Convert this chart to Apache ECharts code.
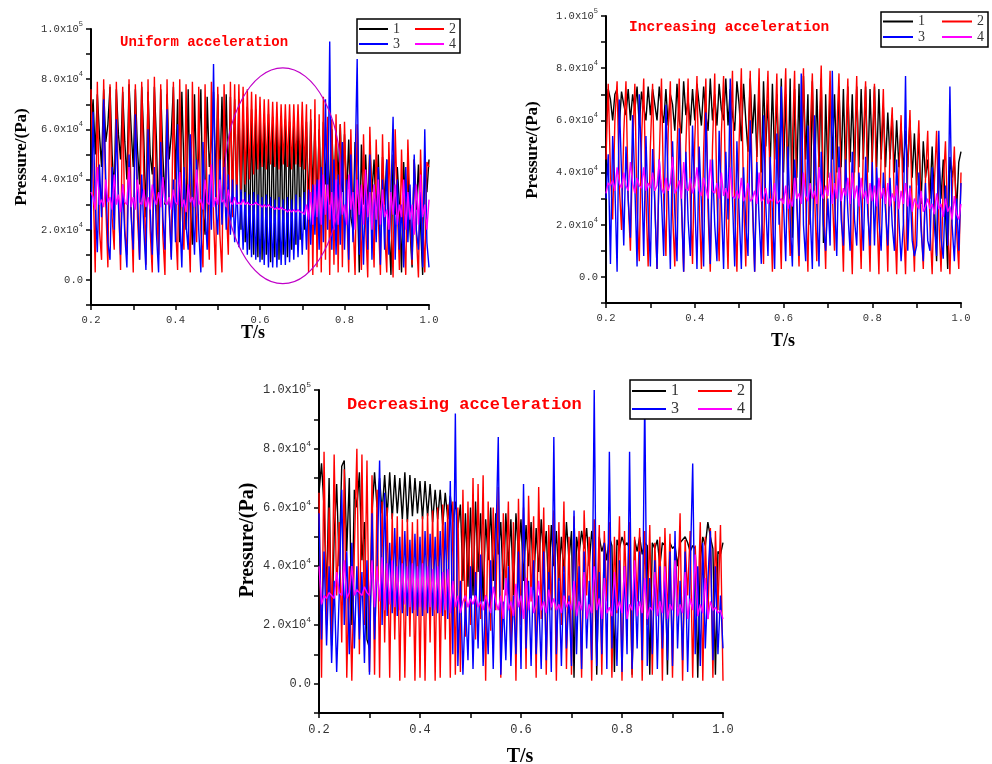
<!DOCTYPE html>
<html>
<head>
<meta charset="utf-8">
<script src="https://cdn.jsdelivr.net/npm/echarts@6/dist/echarts.min.js"></script>
<style>
  html, body { margin: 0; padding: 0; background: #fff; }
  #chart { width: 992px; height: 764px; }
</style>
</head>
<body>
<div id="chart"></div>
<script>
// Pressure histories (unit: 1e3 Pa), sampled evenly from T = 0.2 s to 1.0 s.
const seriesNames = ['1', '2', '3', '4'];
const panelTitles = ['Uniform acceleration', 'Increasing acceleration', 'Decreasing acceleration'];
const xTicks = [0.2, 0.4, 0.6, 0.8, 1.0];
const yTicks = [0, 20000, 40000, 60000, 80000, 100000];

// ---- Uniform acceleration ----
const uniform1 = [
  60,72,50,74,58,45,76,55,62,77,50,35,76,58,48,75,55,40,78,60,
  45,76,52,38,77,56,25,75,50,42,77,55,20,76,50,30,74,48,58,77,
  40,72,15,75,45,20,76,30,14,74,40,50,76,28,18,73,45,55,75,38,
  74,40,73,36,74,38,73,32,72,30,72,20,70,15,69,12,68,10,68,9,
  67,8,66,10,66,7,65,9,65,8,64,10,64,9,63,12,63,14,62,16,
  62,20,63,28,64,35,62,30,60,33,63,38,61,30,60,36,58,40,62,35,
  58,32,56,25,20,55,38,3,54,30,50,28,52,35,48,25,50,22,49,30,
  48,20,2,50,26,45,30,3,47,25,44,20,5,48,28,46,22,2,47,35,
  48
];
const uniform2 = [
  76,40,3,79,20,8,80,30,5,78,25,12,79,35,4,77,20,10,80,30,
  3,78,25,8,79,40,6,80,20,3,81,30,10,78,18,2,80,28,9,79,
  22,4,80,30,12,78,25,3,79,35,15,77,20,5,78,30,8,79,25,2,
  77,18,3,78,30,10,79,25,78,30,78,35,77,38,76,40,75,42,74,44,
  73,45,72,44,72,46,71,45,71,44,70,46,70,45,70,44,70,46,70,45,
  71,44,70,3,68,2,72,5,66,3,73,8,65,2,64,6,66,3,62,5,
  63,30,3,60,25,2,62,28,4,58,22,1,61,30,5,56,25,2,58,20,
  3,55,25,1,60,30,4,52,20,2,56,28,6,48,18,1,52,24,3,47,
  45
];
const uniform3 = [
  20,67,30,11,46,25,72,40,15,8,45,20,64,30,10,38,18,5,50,25,
  12,66,35,8,42,20,4,60,28,10,45,18,3,55,25,12,68,30,8,40,
  15,62,25,5,45,22,12,58,30,10,48,20,3,55,28,12,42,20,86,30,
  18,48,22,45,20,42,18,40,15,38,13,36,12,35,10,34,9,35,8,34,
  7,33,6,34,5,33,5,32,5,33,6,32,6,33,7,32,8,34,9,33,
  10,35,12,36,14,38,18,40,12,45,15,72,20,95,12,48,10,42,14,55,
  12,40,8,50,15,44,88,10,36,6,42,12,50,8,38,15,45,6,40,12,
  48,10,35,65,8,40,12,30,5,45,15,38,8,50,20,12,35,5,60,15,
  5
];
const uniform4 = [
  35,33,28,45,30,32,29,40,31,33,28,42,30,34,27,38,31,30,45,29,
  33,28,40,31,30,36,29,33,28,38,32,30,35,29,41,31,30,33,28,36,
  31,30,43,29,32,27,38,31,33,29,44,30,32,28,40,31,30,46,29,33,
  30,40,31,32,29,36,31,30,33,30,31,30,32,30,31,30,30,30,31,30,
  30,29,30,29,30,29,29,28,29,28,29,28,28,27,28,27,28,27,28,27,
  27,26,30,24,35,22,38,25,40,22,42,26,38,24,35,20,40,22,38,26,
  30,22,42,28,35,20,40,26,38,22,44,25,35,20,38,24,40,22,36,25,
  28,20,35,26,38,22,30,25,40,20,35,24,30,18,38,22,42,25,30,20,
  32
];

// ---- Increasing acceleration ----
const increasing1 = [
  62,72,68,60,70,72,58,71,66,62,72,60,70,64,73,58,71,65,60,73,
  62,72,66,60,73,64,59,72,58,70,66,56,74,60,55,75,62,68,58,72,
  60,74,66,58,73,62,56,76,60,70,58,74,64,60,76,58,72,62,56,75,
  66,52,74,60,48,76,55,70,46,72,40,75,50,68,42,74,45,70,38,76,
  40,70,35,76,15,72,38,74,30,77,45,70,20,75,35,72,42,76,13,70,
  38,73,45,70,40,73,42,72,38,73,44,70,40,73,42,72,45,73,40,72,
  44,73,42,72,45,65,42,63,45,62,40,60,42,58,40,56,42,60,38,55,
  35,55,28,52,38,45,30,50,28,6,46,30,45,25,3,46,38,45,25,44,
  48
];
const increasing2 = [
  45,74,40,22,60,75,35,18,55,75,30,10,50,74,25,6,52,76,30,4,
  50,74,28,3,45,76,30,8,55,75,25,4,48,76,28,2,50,76,30,5,
  52,77,28,3,48,76,25,2,50,78,30,6,55,77,28,3,50,79,26,2,
  52,80,30,4,50,79,28,2,48,80,32,5,55,79,30,2,50,78,28,3,
  55,80,30,8,52,79,28,4,50,80,30,2,55,78,32,6,52,81,30,3,
  50,79,32,10,55,78,30,2,50,76,28,1,48,77,30,3,52,75,30,2,
  50,74,28,1,48,72,30,2,50,65,25,1,40,62,24,1,42,64,25,2,
  40,60,22,3,38,56,20,1,36,56,22,2,35,52,20,1,32,50,18,3,
  40
];
const increasing3 = [
  30,47,5,54,35,2,68,40,12,50,30,15,62,35,4,70,42,8,54,25,
  4,49,28,3,45,30,8,66,35,3,52,25,6,57,30,2,48,22,8,58,
  30,3,50,28,4,63,32,5,45,20,6,56,28,3,48,22,76,30,4,52,
  25,3,42,20,8,60,30,2,44,22,5,62,28,8,46,25,3,55,20,73,
  28,6,50,22,4,45,30,8,78,20,6,58,25,3,62,28,4,48,20,10,
  30,12,79,30,8,50,22,12,45,25,10,48,22,12,40,28,10,46,24,12,
  44,12,42,22,10,40,25,12,38,20,10,45,22,6,20,77,10,35,14,8,
  12,40,18,6,36,14,10,42,20,8,56,15,7,35,12,73,20,6,30,10,
  36
];
const increasing4 = [
  32,36,35,37,33,42,36,34,40,35,33,44,36,32,38,35,34,42,33,36,
  34,40,33,35,45,34,32,38,33,36,46,32,34,37,30,44,34,33,38,32,
  35,42,33,31,38,34,30,45,33,32,36,30,40,31,34,30,42,31,30,33,
  30,38,29,31,36,29,30,33,28,40,29,30,34,28,30,29,36,28,29,30,
  28,35,26,30,27,38,30,32,28,40,31,29,36,30,33,28,42,32,30,35,
  31,40,28,36,30,42,29,34,31,38,28,40,30,35,27,38,30,33,28,36,
  29,35,27,38,30,34,28,36,27,32,29,35,26,33,28,36,27,34,25,30,
  28,26,33,25,27,30,26,28,24,32,26,28,23,30,25,27,22,31,24,22,
  28
];

// ---- Decreasing acceleration ----
const decreasing1 = [
  65,75,60,30,70,13,50,68,40,74,76,45,70,20,66,60,72,42,55,15,
  12,58,72,60,70,58,71,57,72,56,71,58,70,56,72,55,71,57,70,58,
  69,56,69,57,68,55,66,56,66,54,65,56,64,55,62,53,61,35,58,33,
  60,30,62,38,58,28,56,42,60,35,58,44,55,32,58,40,56,30,58,44,
  56,35,54,40,55,32,53,38,56,42,52,30,54,40,52,35,50,38,55,42,
  52,2,50,44,52,46,53,40,52,45,3,50,45,48,42,50,47,4,49,46,
  50,47,48,46,3,49,45,50,44,48,47,3,48,46,49,40,48,47,3,48,
  46,47,40,48,49,50,48,45,47,46,2,42,50,47,55,50,46,3,45,44,
  48
];
const decreasing2 = [
  65,2,79,20,60,15,78,30,55,14,73,2,40,1,45,80,10,78,20,76,
  4,71,3,66,2,62,14,60,2,58,15,57,1,56,2,56,16,55,1,56,
  2,57,1,58,14,59,1,60,2,61,15,61,2,62,3,60,4,66,16,62,
  20,70,15,68,22,71,1,62,18,60,25,67,2,58,30,62,10,55,1,63,
  20,60,5,64,28,57,2,67,22,60,3,54,25,59,1,55,20,62,5,50,
  3,57,25,52,2,59,30,50,1,56,22,54,3,52,28,55,2,50,24,57,
  1,52,26,55,2,50,28,53,1,52,20,54,3,48,25,50,1,53,22,51,
  2,48,26,58,1,49,30,52,2,47,24,55,1,50,22,53,2,52,25,54,
  1
];
const decreasing3 = [
  58,15,45,13,40,7,35,4,30,66,20,45,10,48,12,40,15,38,7,42,
  3,58,15,40,76,20,65,23,48,24,53,23,50,24,52,23,49,24,51,23,
  50,23,52,24,51,23,50,24,52,23,55,22,69,10,92,6,35,3,28,8,
  40,5,38,12,44,6,30,10,42,5,46,84,3,28,8,40,6,30,10,45,
  5,68,12,35,6,42,10,30,5,45,8,38,4,84,10,36,6,40,12,30,
  6,59,10,40,5,45,12,35,8,100,6,38,10,48,5,79,12,35,6,42,
  4,40,10,79,5,38,12,45,8,98,6,36,10,42,5,40,12,38,8,45,
  6,52,12,35,8,45,4,38,75,10,40,6,48,12,35,52,8,40,10,30,
  12
];
const decreasing4 = [
  40,27,30,29,31,30,29,38,31,30,42,29,31,40,30,32,31,30,33,31,
  30,42,26,40,28,43,25,41,27,42,26,40,25,41,27,40,26,41,25,40,
  26,41,25,40,26,39,25,40,24,38,25,39,24,35,26,30,24,28,30,26,
  29,27,30,26,28,25,30,27,24,33,28,25,30,22,36,25,28,23,34,26,
  30,22,36,25,33,24,27,35,25,28,24,32,26,29,25,27,24,30,26,28,
  25,35,23,28,25,38,22,27,24,40,25,29,22,36,24,26,23,38,25,28,
  24,40,22,27,25,42,23,28,24,36,22,26,25,38,23,28,24,40,22,27,
  25,42,23,27,24,38,22,29,25,44,23,27,24,36,22,28,25,26,24,25,
  22
];

const T_START = 0.2, T_END = 1.0;
const seriesColors = ['#000000', '#ff0000', '#0000ff', '#ff00ff'];

const panelData = [
  [uniform1, uniform2, uniform3, uniform4],
  [increasing1, increasing2, increasing3, increasing4],
  [decreasing1, decreasing2, decreasing3, decreasing4]
];

// Page layout of the three panels
const layout = [
  { grid: { left: 91, top: 29, width: 338, height: 276 }, tick: 10.5, titleLeft: 120, titleTop: 35, titleSize: 14,
    yName: [22, 157], yNameSize: 17, xName: [253, 333], xNameSize: 18, labelGap: 10,
    box: [357, 19, 103, 34], rows: [22, 37], legLeft: 359, icon: 29, legFont: 14, legGap: 15 },
  { grid: { left: 606, top: 16, width: 355, height: 287 }, tick: 10.5, titleLeft: 629, titleTop: 20, titleSize: 14.5,
    yName: [533, 150], yNameSize: 17, xName: [783, 341], xNameSize: 18, labelGap: 10,
    box: [881, 12, 107, 35], rows: [14.5, 30], legLeft: 883, icon: 30, legFont: 14, legGap: 17 },
  { grid: { left: 319, top: 390, width: 404, height: 323 }, tick: 12, titleLeft: 347, titleTop: 396, titleSize: 17,
    yName: [248, 540], yNameSize: 20, xName: [520, 757], xNameSize: 20, labelGap: 11,
    box: [630, 380, 121, 39], rows: [383, 401], legLeft: 632, icon: 34, legFont: 16, legGap: 19 }
];

function toPairs(vals) {
  const step = (T_END - T_START) / (vals.length - 1);
  return vals.map((v, i) => [T_START + i * step, v * 1000]);
}

function yLabel(v) {
  if (yTicks.indexOf(v) < 0) return '';
  if (v === 0) return '0.0';
  const e = Math.floor(Math.log10(v) + 1e-9);
  const m = v / Math.pow(10, e);
  return '{b|' + m.toFixed(1) + 'x10}{s|' + e + '}';
}
function xLabel(v) {
  return xTicks.some(t => Math.abs(t - v) < 1e-6) ? v.toFixed(1) : '';
}

const grids = [], xAxes = [], yAxes = [], series = [], titles = [], legends = [], graphics = [];

layout.forEach((p, k) => {
  grids.push(Object.assign({ containLabel: false }, p.grid));
  xAxes.push({
    type: 'value', gridIndex: k, min: 0.2, max: 1.0, interval: 0.1,
    axisLine: { onZero: false, lineStyle: { color: '#000', width: 2 } },
    axisTick: { show: true, length: 5, lineStyle: { color: '#000', width: 1.5 } },
    splitLine: { show: false },
    axisLabel: { formatter: xLabel, margin: p.labelGap, fontFamily: 'Liberation Mono', fontSize: p.tick, color: '#333' }
  });
  yAxes.push({
    type: 'value', gridIndex: k, min: -10000, max: 100000, interval: 10000,
    axisLine: { onZero: false, lineStyle: { color: '#000', width: 2 } },
    axisTick: { show: true, length: 5, lineStyle: { color: '#000', width: 1.5 } },
    splitLine: { show: false },
    axisLabel: {
      formatter: yLabel, margin: 8, fontFamily: 'Liberation Mono', fontSize: p.tick, color: '#333',
      rich: {
        b: { fontFamily: 'Liberation Mono', fontSize: p.tick, color: '#333', lineHeight: p.tick + 6 },
        s: { fontFamily: 'Liberation Mono', fontSize: Math.round(p.tick * 0.7), color: '#333', verticalAlign: 'top', lineHeight: Math.round(p.tick * 0.7) }
      }
    }
  });
  panelData[k].forEach((vals, j) => {
    series.push({
      name: seriesNames[j], type: 'line', xAxisIndex: k, yAxisIndex: k,
      data: toPairs(vals), showSymbol: false, symbol: 'none',
      lineStyle: { color: seriesColors[j], width: 1.4 }, itemStyle: { color: seriesColors[j] },
      z: 2 + j * 0.01
    });
  });
  titles.push({
    text: panelTitles[k], left: p.titleLeft, top: p.titleTop, padding: 0,
    textStyle: { color: '#ff0000', fontFamily: 'Liberation Mono', fontWeight: 'bold', fontSize: p.titleSize }
  });
  [['1', '2'], ['3', '4']].forEach((pair, r) => {
    legends.push({
      data: pair, left: p.legLeft, top: p.rows[r], orient: 'horizontal', padding: 0,
      icon: 'rect', itemWidth: p.icon, itemHeight: 2, itemGap: p.legGap, selectedMode: false,
      textStyle: { fontFamily: 'Liberation Serif', fontSize: p.legFont, color: '#333', lineHeight: p.legFont }
    });
  });
  graphics.push({
    id: 'box' + k, type: 'rect', z: 3,
    shape: { x: p.box[0], y: p.box[1], width: p.box[2], height: p.box[3] },
    style: { fill: '#fff', stroke: '#000', lineWidth: 1.5 }
  });
  graphics.push({
    id: 'yname' + k, type: 'text', x: p.yName[0], y: p.yName[1], rotation: Math.PI / 2,
    style: { text: 'Pressure/(Pa)', fontFamily: 'Liberation Serif', fontWeight: 'bold', fontSize: p.yNameSize,
             fill: '#000', align: 'center', verticalAlign: 'middle' }
  });
  graphics.push({
    id: 'xname' + k, type: 'text', x: p.xName[0], y: p.xName[1],
    style: { text: 'T/s', fontFamily: 'Liberation Serif', fontWeight: 'bold', fontSize: p.xNameSize,
             fill: '#000', align: 'center', verticalAlign: 'middle' }
  });
});

const chart = echarts.init(document.getElementById('chart'), null, { renderer: 'canvas' });
chart.setOption({
  animation: false,
  backgroundColor: '#fff',
  grid: grids, xAxis: xAxes, yAxis: yAxes,
  title: titles, legend: legends, series: series, graphic: graphics
});

// Ellipse marking the steady band in the first panel, placed in data coordinates
const centre = chart.convertToPixel({ gridIndex: 0 }, [0.654, 41500]);
const corner = chart.convertToPixel({ gridIndex: 0 }, [0.791, 84500]);
chart.setOption({
  graphic: [{
    id: 'ring', type: 'ellipse', z: 3,
    shape: { cx: centre[0], cy: centre[1], rx: corner[0] - centre[0], ry: centre[1] - corner[1] },
    style: { fill: 'none', stroke: '#c000c8', lineWidth: 1.2 }
  }]
});
</script>
</body>
</html>
